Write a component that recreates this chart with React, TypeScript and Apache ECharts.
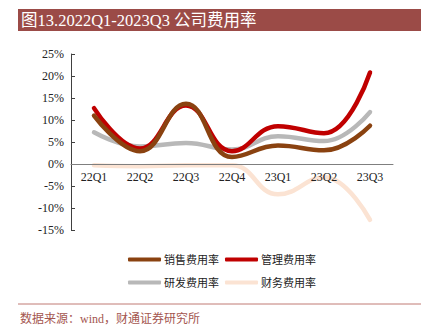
import React, { useEffect, useRef } from "react";
import * as echarts from "echarts";

const categories = ["22Q1", "22Q2", "22Q3", "22Q4", "23Q1", "23Q2", "23Q3"];
const salesRate = [11.0, 2.9, 13.7, 1.6, 4.2, 3.1, 8.7];
const mgmtRate = [12.7, 3.5, 13.3, 2.9, 8.6, 7.0, 20.8];
const rdRate = [7.2, 4.0, 4.8, 3.3, 6.3, 5.2, 11.8];
const finRate = [-0.3, -0.5, -0.3, -0.3, -6.9, -3.0, -12.7];
const seriesNames = ["销售费用率", "管理费用率", "研发费用率", "财务费用率"];
const yTicks = { min: -15, max: 25, interval: 5 };

const colors = ["#8a4210", "#c00000", "#b8b8b8", "#fbe3d3"];
const latin = "'Liberation Serif', 'Times New Roman', serif";
const cjk = "'Liberation Serif', 'Noto Sans CJK SC', serif";

export default function App() {
  const ref = useRef<HTMLDivElement>(null);
  useEffect(() => {
    if (!ref.current) return;
    const chart = echarts.init(ref.current, undefined, { renderer: "svg" });
    const data = [salesRate, mgmtRate, rdRate, finRate];
    chart.setOption({
      animation: false,
      backgroundColor: "#ffffff",
      color: colors,
      grid: { left: 71, right: 35, top: 54, bottom: 101, containLabel: false },
      xAxis: {
        type: "category",
        data: categories,
        boundaryGap: true,
        offset: -66,
        z: 20,
        axisLine: { onZero: false, lineStyle: { color: "#7f7f7f", width: 1 } },
        axisTick: { inside: true, length: 4, lineStyle: { color: "#7f7f7f" } },
        axisLabel: { color: "#222", fontFamily: latin, fontSize: 12, margin: 7 },
        splitLine: { show: false },
      },
      yAxis: {
        type: "value",
        min: yTicks.min,
        max: yTicks.max,
        interval: yTicks.interval,
        axisLine: { show: true, lineStyle: { color: "#404040", width: 1 } },
        axisTick: { show: true, inside: true, length: 4, lineStyle: { color: "#404040" } },
        axisLabel: { color: "#222", fontFamily: latin, fontSize: 12, margin: 7, formatter: "{value}%" },
        splitLine: { show: false },
      },
      legend: [
        {
          data: [seriesNames[0], seriesNames[1]],
          left: 128,
          top: 254,
          icon: "roundRect",
          itemWidth: 33,
          itemHeight: 4,
          itemGap: 6,
          padding: 0,
          textStyle: { fontFamily: cjk, fontSize: 11, color: "#222", padding: [0, 0, 0, -2] },
        },
        {
          data: [seriesNames[2], seriesNames[3]],
          left: 128,
          top: 277,
          icon: "roundRect",
          itemWidth: 33,
          itemHeight: 4,
          itemGap: 6,
          padding: 0,
          textStyle: { fontFamily: cjk, fontSize: 11, color: "#222", padding: [0, 0, 0, -2] },
        },
      ],
      series: seriesNames.map((name, i) => ({
        name,
        type: "line",
        data: data[i],
        smooth: 0.45,
        symbol: "none",
        z: 10 - i,
        lineStyle: { width: 4.5, color: colors[i], cap: "round" },
        itemStyle: { color: colors[i] },
      })),
      graphic: [
        { type: "rect", shape: { x: 18, y: 9, width: 403, height: 22 }, style: { fill: "#9b4b47" } },
        {
          type: "text",
          x: 21,
          y: 20,
          style: { text: "图13.2022Q1-2023Q3 公司费用率", fill: "#ffffff", font: `16.5px ${cjk}`, textVerticalAlign: "middle" },
        },
        { type: "line", shape: { x1: 18, y1: 304, x2: 421, y2: 304 }, style: { stroke: "#c07a74", lineWidth: 1 } },
        {
          type: "text",
          x: 20,
          y: 319,
          style: { text: "数据来源：wind，财通证券研究所", fill: "#a4564f", font: `12px ${cjk}`, textVerticalAlign: "middle" },
        },
      ],
    });
    return () => chart.dispose();
  }, []);
  return <div ref={ref} style={{ width: 428, height: 331, position: "absolute", left: 0, top: 0 }} />;
}
